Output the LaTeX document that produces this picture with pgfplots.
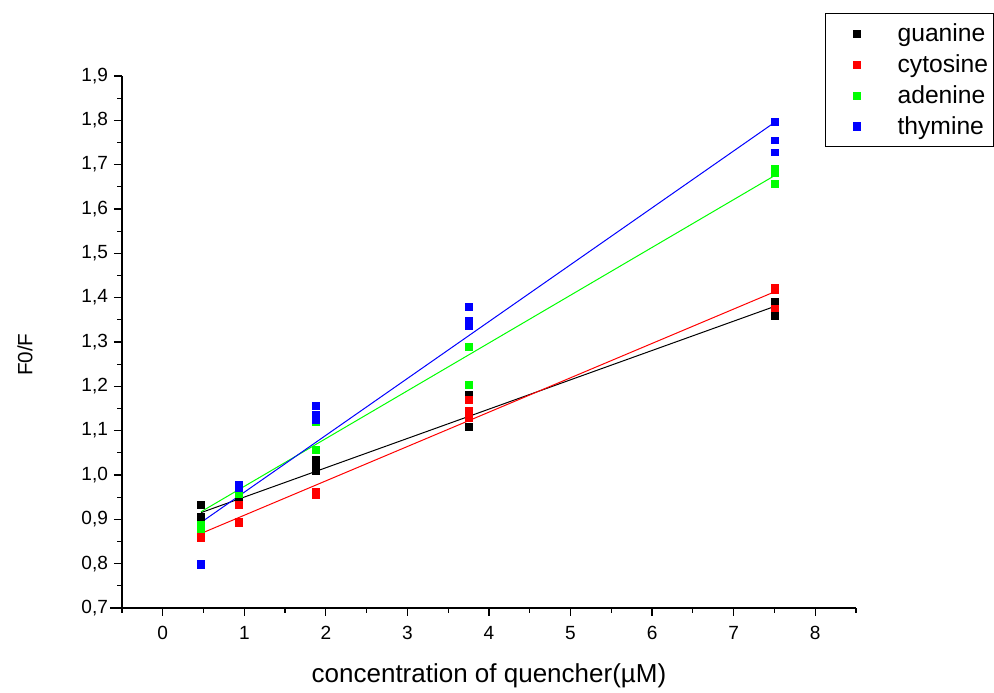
\documentclass[border=0pt]{standalone}
\usepackage{pgfplots}
\pgfplotsset{compat=1.18}
\usepackage{fontspec}
\setmainfont{Liberation Sans}
\definecolor{gua}{RGB}{0,0,0}
\definecolor{cyt}{RGB}{255,0,0}
\definecolor{ade}{RGB}{0,255,0}
\definecolor{thy}{RGB}{0,0,255}
\begin{document}
\begin{tikzpicture}
\begin{axis}[
    at={(0,0)}, anchor=south west,
    width=550.5pt, height=399pt, scale only axis,
    xmin=-0.5, xmax=8.5, ymin=0.7, ymax=1.9,
    axis x line=bottom, axis y line=left,
    axis line style={-, line width=0.9pt},
    x axis line style={shorten <=-9pt},
    tick align=outside,
    major tick length=6pt, minor tick length=3.5pt,
    every tick/.style={black, line width=0.9pt},
    xtick={0,1,...,8},
    minor xtick={-0.5,0.5,...,8.5},
    ytick={0.7,0.8,...,1.91},
    minor ytick={0.75,0.85,...,1.86},
    y tick label style={/pgf/number format/fixed, /pgf/number format/fixed zerofill,
        /pgf/number format/precision=1, /pgf/number format/use comma, xshift=-1pt},
    /pgf/number format/assume math mode=true,
    tick label style={font=\fontsize{14.3}{17}\selectfont},
    xticklabel style={yshift=-4pt},
    xlabel={concentration of quencher(µM)},
    ylabel={F0/F},
    xlabel style={font=\fontsize{19.5}{23}\selectfont, at={(axis description cs:0.5,-0.128)}, anchor=center},
    ylabel style={font=\fontsize{15.5}{18}\selectfont, at={(axis description cs:-0.132,0.476)}, anchor=center},
    legend style={at={(0.958,1.118)}, anchor=north west, draw=black, line width=0.9pt,
        fill=white, font=\fontsize{18.5}{22}\selectfont, row sep=4.3pt,
        inner xsep=2pt, inner ysep=5.5pt, nodes={inner sep=2pt}, cells={anchor=west}},
    legend image code/.code={\path (0pt,0pt) (49pt,0pt);\draw[#1] plot coordinates {(21pt,0pt)};},
    clip=false,
]
\addplot[only marks, mark=square*, mark size=2.6pt, color=gua] coordinates {
    (0.46875,0.932) (0.46875,0.905) (0.46875,0.900)
    (0.9375,0.945) (0.9375,0.940)
    (1.875,1.035) (1.875,1.020) (1.875,1.010)
    (3.75,1.180) (3.75,1.140) (3.75,1.108)
    (7.5,1.390) (7.5,1.360)
};
\addplot[only marks, mark=square*, mark size=2.6pt, color=cyt] coordinates {
    (0.46875,0.865) (0.46875,0.858)
    (0.9375,0.932) (0.9375,0.895) (0.9375,0.893)
    (1.875,0.962) (1.875,0.955)
    (3.75,1.170) (3.75,1.145) (3.75,1.130)
    (7.5,1.423) (7.5,1.418) (7.5,1.376)
};
\addplot[only marks, mark=square*, mark size=2.6pt, color=ade] coordinates {
    (0.46875,0.888) (0.46875,0.878)
    (0.9375,0.962) (0.9375,0.958)
    (1.875,1.120) (1.875,1.057)
    (3.75,1.290) (3.75,1.203)
    (7.5,1.690) (7.5,1.682) (7.5,1.657)
};
\addplot[only marks, mark=square*, mark size=2.6pt, color=thy] coordinates {
    (0.46875,0.800) (0.46875,0.798)
    (0.9375,0.978) (0.9375,0.970)
    (1.875,1.157) (1.875,1.135) (1.875,1.125)
    (3.75,1.380) (3.75,1.348) (3.75,1.337)
    (7.5,1.797) (7.5,1.755) (7.5,1.728)
};
\legend{guanine, cytosine, adenine, thymine}
\addplot[forget plot, gua, line width=0.75pt] coordinates {(0.46875,0.915) (7.5,1.380)};
\addplot[forget plot, cyt, line width=0.75pt] coordinates {(0.46875,0.868) (7.5,1.413)};
\addplot[forget plot, ade, line width=0.75pt] coordinates {(0.46875,0.917) (7.5,1.675)};
\addplot[forget plot, thy, line width=0.75pt] coordinates {(0.46875,0.893) (7.5,1.795)};
\end{axis}
\path[use as bounding box] (-91.5pt,-59.25pt) rectangle (654pt,456pt);
\end{tikzpicture}
\end{document}
